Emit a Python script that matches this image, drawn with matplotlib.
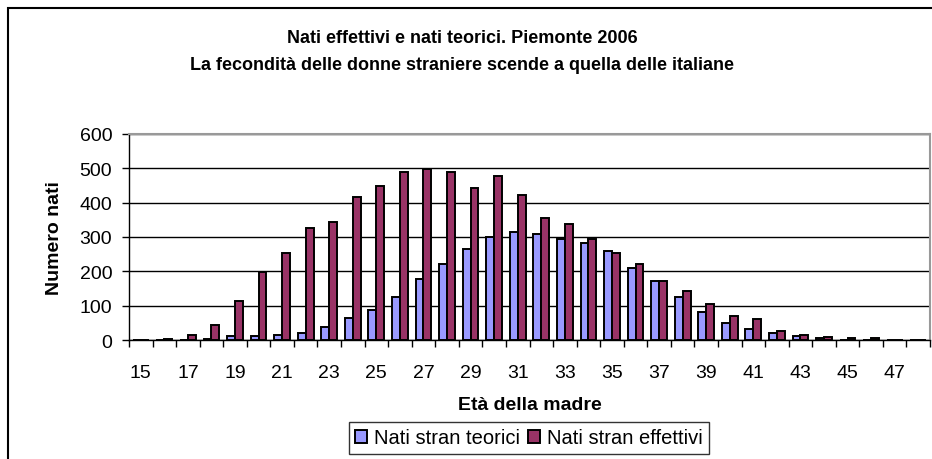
import matplotlib.pyplot as plt
import matplotlib.patches as mpatches
import numpy as np

plt.rcParams['font.family'] = ['Liberation Sans', 'DejaVu Sans']

ages = list(range(15, 49))
teorici = [0, 0, 1, 3, 11, 11, 16, 21, 38, 65, 87, 126, 177, 221, 266, 299, 316,
           310, 293, 283, 260, 210, 171, 126, 83, 49, 32, 21, 11, 5, 1, 0, 0, 0]
effettivi = [0, 4, 16, 43, 115, 199, 254, 327, 343, 416, 450, 488, 498, 488, 444,
             477, 421, 355, 338, 293, 254, 221, 171, 144, 105, 71, 60, 27, 15, 10,
             5, 5, 0, 0]
y_ticks = [0, 100, 200, 300, 400, 500, 600]

title = ("Nati effettivi e nati teorici. Piemonte 2006\n"
         "La fecondità delle donne straniere scende a quella delle italiane")

W, H = 932, 460
fig = plt.figure(figsize=(W / 100, H / 100), dpi=100)
ax = fig.add_axes([129 / W, 1 - 341 / H, 801 / W, 206 / H])

x = np.arange(len(ages))
bw = 0.335
ax.bar(x - bw / 2, teorici, bw, color="#9999FF", edgecolor="black",
       linewidth=1.4, label="Nati stran teorici", zorder=3)
ax.bar(x + bw / 2, effettivi, bw, color="#993366", edgecolor="black",
       linewidth=1.4, label="Nati stran effettivi", zorder=3)

ax.set_xlim(-0.5, len(ages) - 0.5)
ax.set_ylim(0, 600)
ax.set_yticks(y_ticks)
ax.yaxis.grid(True, color="black", linewidth=1, zorder=0)
ax.set_axisbelow(True)

# ticks at category boundaries, labels every other age
ax.set_xticks(np.arange(len(ages) + 1) - 0.5)
ax.set_xticklabels([])
ax.set_xticks(x[::2], minor=True)
ax.set_xticklabels([str(a) for a in ages[::2]], minor=True)
ax.tick_params(axis="x", which="major", length=5, width=1, direction="out")
ax.tick_params(axis="x", which="minor", length=0, pad=17, labelsize=14)
ax.tick_params(axis="y", length=5, width=1, direction="out", pad=7, labelsize=14)

for s in ["top", "right"]:
    ax.spines[s].set_color("#999999")
    ax.spines[s].set_linewidth(1.5)
for s in ["left", "bottom"]:
    ax.spines[s].set_color("black")
    ax.spines[s].set_linewidth(1)

ax.set_xlabel("Età della madre", fontsize=14, fontweight="bold", labelpad=11)
ax.set_ylabel("Numero nati", fontsize=14, fontweight="bold", labelpad=12)

fig.text(462 / W, 1 - 52 / H, title, ha="center", va="center", fontsize=13,
         fontweight="bold", linespacing=1.75)

leg = fig.legend(loc="center", bbox_to_anchor=(529 / W, 1 - 439 / H), ncol=2,
                 fontsize=14.5, frameon=True, fancybox=False, edgecolor="black",
                 handlelength=0.6, handleheight=0.6, handletextpad=0.35,
                 columnspacing=0.4, borderpad=0.3, borderaxespad=0)
leg.get_frame().set_linewidth(1)

# outer chart border (cut off at right and bottom)
fig.patches.append(mpatches.Rectangle((8 / W, -0.5), 2, 0.5 + 1 - 9 / H,
                                      transform=fig.transFigure, fill=False,
                                      edgecolor="black", linewidth=1.5))

fig.savefig("out.png", dpi=100)
